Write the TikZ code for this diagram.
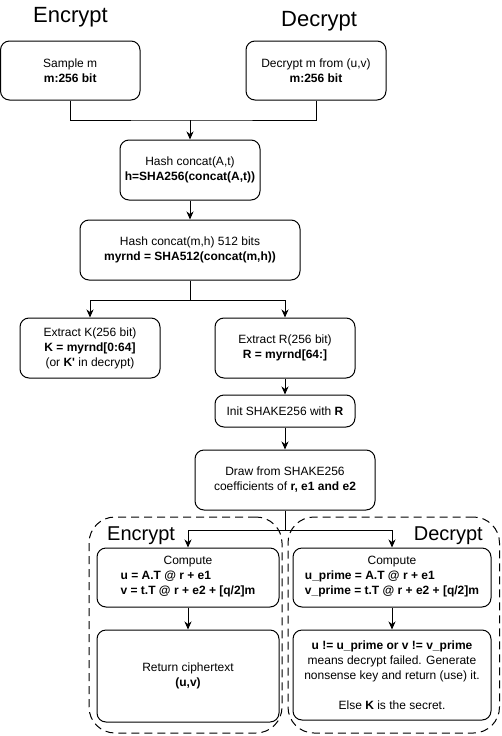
\documentclass[tikz,border=0pt]{standalone}
\usepackage{fontspec}
\setmainfont{Liberation Sans}
\usetikzlibrary{arrows.meta}
\begin{document}
\begin{tikzpicture}[x=1pt,y=-1pt,
  box/.style={draw, line width=1pt, rounded corners=9pt, align=center, font=\fontsize{12}{15}\selectfont, inner sep=0pt},
  grp/.style={draw, line width=1pt, dash pattern=on 8pt off 5pt, rounded corners=26pt, inner sep=0pt},
  arr/.style={line width=1pt, -{Stealth[length=8pt,width=7pt,inset=2.5pt]}},
  ln/.style={line width=1pt},
  title/.style={font=\fontsize{22}{26}\selectfont, inner sep=0pt},
  glabel/.style={font=\fontsize{20}{24}\selectfont, inner sep=0pt}
]
\useasboundingbox (0,0) rectangle (501,736);

% groups (behind)
\node[grp, minimum width=193pt, minimum height=216pt] (gE) at (185.5,625) {};
\node[grp, minimum width=211.5pt, minimum height=216pt] (gD) at (393.75,625) {};

% titles
\node[title, anchor=base west] (tE) at (33,23) {Encrypt};
\node[title, anchor=base west] (tD) at (281,27) {Decrypt};
\node[glabel, anchor=base west] (lE) at (107,540) {Encrypt};
\node[glabel, anchor=base east] (lD) at (483,540) {Decrypt};

% boxes
\node[box, minimum width=139.5pt, minimum height=59pt] (sample) at (70.25,70.5) {Sample m\\\textbf{m:256 bit}};
\node[box, minimum width=140pt, minimum height=59pt] (decm) at (316,70.5) {Decrypt m from (u,v)\\\textbf{m:256 bit}};
\node[box, minimum width=140pt, minimum height=60pt] (hashA) at (190,170) {Hash concat(A,t)\\\textbf{h=SHA256(concat(A,t))}};
\node[box, minimum width=220pt, minimum height=60pt] (hashM) at (190,250) {Hash concat(m,h) 512 bits\\\textbf{myrnd = SHA512(concat(m,h))}};
\node[box, minimum width=140pt, minimum height=60pt] (extK) at (90,348) {Extract K(256 bit)\\\textbf{K = myrnd[0:64]}\\(or \textbf{K\textquotesingle} in decrypt)};
\node[box, minimum width=140pt, minimum height=60pt] (extR) at (285,348) {Extract R(256 bit)\\\textbf{R = myrnd[64:]}};
\node[box, minimum width=140pt, minimum height=32pt] (init) at (285,411) {Init SHAKE256 with \textbf{R}};
\node[box, minimum width=180pt, minimum height=60pt] (drawn) at (285,480) {Draw from SHAKE256\\coefficients of \textbf{r, e1 and e2}};
\node[box, minimum width=182pt, minimum height=59pt] (compE) at (188,577.5) {Compute\\\begin{tabular}[t]{@{}l@{}}\textbf{u = A.T @ r + e1}\\\textbf{v = t.T @ r + e2 + [q/2]m}\end{tabular}};
\node[box, minimum width=182pt, minimum height=92pt] (retE) at (188,676) {Return ciphertext\\\textbf{(u,v)}};
\node[box, minimum width=198pt, minimum height=59pt] (compD) at (392,577.5) {Compute\\\begin{tabular}[t]{@{}l@{}}\textbf{u\_prime = A.T @ r + e1}\\\textbf{v\_prime = t.T @ r + e2 + [q/2]m}\end{tabular}};
\node[box, minimum width=198pt, minimum height=90pt] (retD) at (392,675) {\textbf{u != u\_prime or v != v\_prime}\\means decrypt failed. Generate\\nonsense key and return (use) it.\\[15pt]Else \textbf{K} is the secret.};

% connectors
\coordinate (j1) at (190,120);
\draw[ln] (sample.south) |- (j1) -| (decm.south);
\draw[arr] (j1) -- (hashA.north);
\draw[arr] (hashA) -- (hashM);
\coordinate (j2) at (190,300);
\draw[ln] (hashM.south) -- (j2);
\draw[arr] (j2) -| (extK.north);
\draw[arr] (j2) -| (extR.north);
\draw[arr] (extR) -- (init);
\draw[arr] (init) -- (drawn);
\coordinate (j3) at (285,530);
\draw[ln] (drawn.south) -- (j3);
\draw[arr] (j3) -| (compE.north);
\draw[arr] (j3) -| (compD.north);
\draw[arr] (compE) -- (retE);
\draw[arr] (compD) -- (retD);
\end{tikzpicture}
\end{document}
